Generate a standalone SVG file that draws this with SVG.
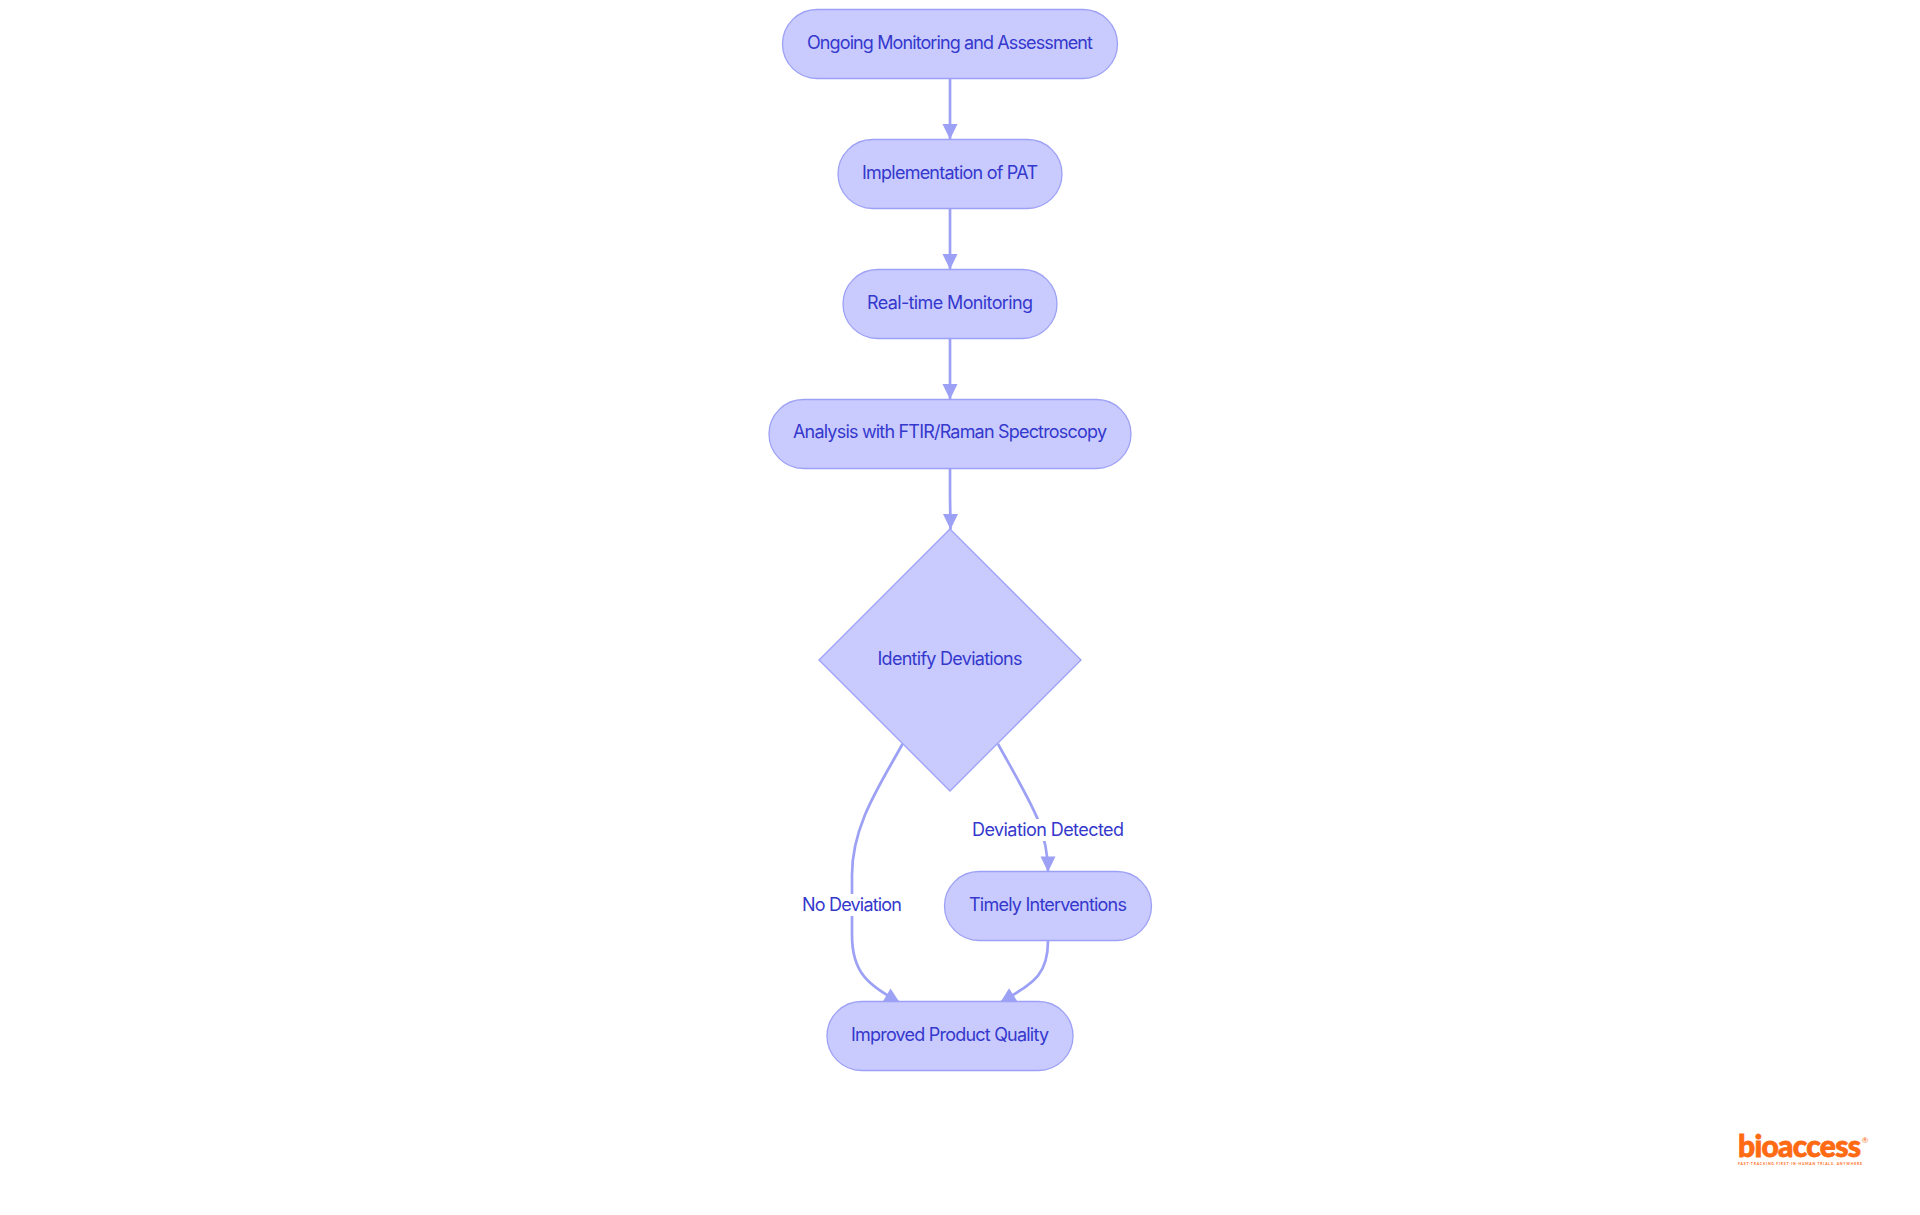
<svg xmlns="http://www.w3.org/2000/svg" width="1920" height="1215" viewBox="0 0 1920 1215">
<style>
.n{fill:#c9cbfe;stroke:#9da1f5;stroke-width:1.3}
.t{font-family:Inter,"Noto Sans","Liberation Sans",sans-serif;font-size:18px;fill:#3538cd;text-anchor:middle;dominant-baseline:central}
.e{fill:none;stroke:#9da1f5;stroke-width:2.7}
.lb{fill:#fff}
.logo{font-family:Lato,"Liberation Sans",sans-serif;fill:#ff6a13}
</style>
<defs>
<marker id="a" markerUnits="userSpaceOnUse" viewBox="0 0 16 16" refX="16" refY="8" markerWidth="16" markerHeight="16" orient="auto"><path d="M0.500 0.500L16 8L0.500 15.500z" fill="#9da1f5"/></marker>
</defs>
<rect width="1920" height="1215" fill="#fff"/>
<g id="connectors">
<path class="e" marker-end="url(#a)" d="M950 79V139.500"/>
<path class="e" marker-end="url(#a)" d="M950 209V269.500"/>
<path class="e" marker-end="url(#a)" d="M950 339V399.500"/>
<path class="e" marker-end="url(#a)" d="M950 469V492C950 505 950.500 518 950.500 529.500"/>
<path class="e" marker-end="url(#a)" d="M902.500 744C880 785 852 825 852 875V935C852 975 870 985 900 1003"/>
<path class="e" marker-end="url(#a)" d="M998 744C1014 773 1030 800 1038 820C1044 836 1048 852 1048 872"/>
<path class="e" marker-end="url(#a)" d="M1048 941C1048 978 1030 984 1000 1003"/>
</g>
<g id="edge-label-no">
<rect class="lb" x="802" y="894" width="100" height="22"/>
<text class="t" x="852" y="904" textLength="100">No Deviation</text>
</g>
<g id="edge-label-detected">
<rect class="lb" x="972" y="819" width="152" height="22"/>
<text class="t" x="1048" y="829" textLength="152">Deviation Detected</text>
</g>
<g id="n1"><rect class="n" x="782.500" y="9.500" width="335" height="69" rx="34.500"/><text class="t" x="950" y="42" textLength="286">Ongoing Monitoring and Assessment</text></g>
<g id="n2"><rect class="n" x="838" y="139.500" width="224" height="69" rx="34.500"/><text class="t" x="950" y="172" textLength="176">Implementation of PAT</text></g>
<g id="n3"><rect class="n" x="843" y="269.500" width="214" height="69" rx="34.500"/><text class="t" x="950" y="302" textLength="166">Real-time Monitoring</text></g>
<g id="n4"><rect class="n" x="769" y="399.500" width="362" height="69" rx="34.500"/><text class="t" x="950" y="431" textLength="314">Analysis with FTIR/Raman Spectroscopy</text></g>
<g id="n5"><path class="n" d="M950 529L1081 660L950 791L819 660Z"/><text class="t" x="950" y="658" textLength="145">Identify Deviations</text></g>
<g id="n6"><rect class="n" x="944.500" y="871.500" width="207" height="69" rx="34.500"/><text class="t" x="1048" y="904" textLength="158">Timely Interventions</text></g>
<g id="n7"><rect class="n" x="827" y="1001.500" width="246" height="69" rx="34.500"/><text class="t" x="950" y="1034" textLength="198">Improved Product Quality</text></g>
<g id="logo">
<text class="logo" x="1738" y="1156.500" font-size="30" font-weight="900" textLength="123" stroke="#ff6a13" stroke-width="0.8">bioaccess</text>
<text class="logo" x="1865" y="1143" font-size="8" text-anchor="middle">®</text>
<text class="logo" x="1738" y="1164.500" font-size="3.500" font-weight="700" textLength="124">FAST-TRACKING FIRST-IN-HUMAN TRIALS, ANYWHERE</text>
</g>
</svg>
